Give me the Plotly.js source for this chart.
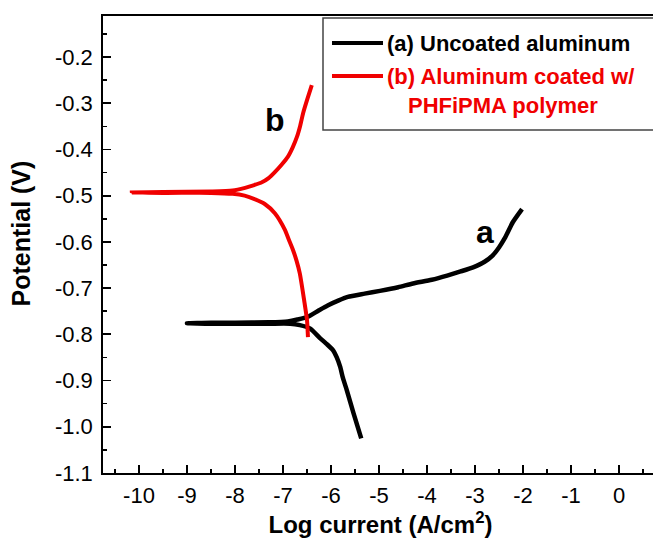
<!DOCTYPE html>
<html>
<head>
<meta charset="utf-8">
<script src="https://cdn.plot.ly/plotly-3.0.1.min.js"></script>
<style>
html,body{margin:0;padding:0;overflow:hidden;background:#fff;}
#chart{width:665px;height:540px;}
</style>
</head>
<body>
<div id="chart"></div>
<script>
// Uncoated aluminum (a): log current and potential, following the scan path
const aLogI = [-5.37, -5.45, -5.53, -5.67, -5.75, -5.81, -5.88, -5.96, -6.1, -6.23, -6.44, -6.65, -6.85, -7.3, -8.0, -8.5, -9.0,
               -8.5, -8.0, -7.3, -6.9, -6.7, -6.48, -6.25, -6.06, -5.85, -5.65, -5.3, -4.98, -4.6, -4.29, -3.9, -3.58, -3.3, -3.04, -2.8, -2.63, -2.5, -2.38, -2.21, -2.02];
const aPot  = [-1.025, -0.998, -0.971, -0.921, -0.895, -0.870, -0.850, -0.834, -0.820, -0.808, -0.787, -0.780, -0.777, -0.777, -0.777, -0.777, -0.776,
               -0.775, -0.775, -0.774, -0.772, -0.768, -0.762, -0.748, -0.737, -0.727, -0.719, -0.712, -0.706, -0.698, -0.690, -0.682, -0.673, -0.664, -0.655, -0.643, -0.629, -0.612, -0.592, -0.557, -0.529];

// Aluminum coated with PHFiPMA polymer (b)
const bLogI = [-6.48, -6.50, -6.56, -6.65, -6.72, -6.79, -6.88, -6.96, -7.17, -7.38, -7.58, -7.8, -8.05, -8.5, -9.5, -10.15,
               -9.5, -8.5, -8.05, -7.79, -7.6, -7.44, -7.3, -7.17, -7.03, -6.90, -6.80, -6.71, -6.64, -6.58, -6.49, -6.40];
const bPot  = [-0.806, -0.769, -0.726, -0.668, -0.640, -0.618, -0.595, -0.574, -0.538, -0.518, -0.508, -0.500, -0.496, -0.494, -0.494, -0.493,
               -0.492, -0.491, -0.489, -0.483, -0.477, -0.471, -0.462, -0.449, -0.433, -0.416, -0.396, -0.373, -0.348, -0.321, -0.290, -0.261];

const xTickVals = [-10, -9, -8, -7, -6, -5, -4, -3, -2, -1, 0];
const xTickText = ['-10', '-9', '-8', '-7', '-6', '-5', '-4', '-3', '-2', '-1', '0'];
const yTickVals = [-0.2, -0.3, -0.4, -0.5, -0.6, -0.7, -0.8, -0.9, -1.0, -1.1];
const yTickText = ['-0.2', '-0.3', '-0.4', '-0.5', '-0.6', '-0.7', '-0.8', '-0.9', '-1.0', '-1.1'];

const seriesNames = ['(a) Uncoated aluminum', '(b) Aluminum coated w/', 'PHFiPMA polymer'];
const seriesColors = ['#000000', '#f00000'];
const curveLabels = ['a', 'b'];
const curveLabelX = [-2.79, -7.17];
const curveLabelY = [-0.579, -0.336];

const FONT = '"Liberation Sans", Arial, Helvetica, sans-serif';

const traces = [
  {x: aLogI, y: aPot, mode: 'lines', name: seriesNames[0], line: {color: seriesColors[0], width: 4.5, shape: 'spline', smoothing: 0.6}, showlegend: false},
  {x: bLogI, y: bPot, mode: 'lines', name: seriesNames[1] + ' ' + seriesNames[2], line: {color: seriesColors[1], width: 4, shape: 'spline', smoothing: 0.6}, showlegend: false}
];

// custom legend box (paper coordinates)
const legX0 = 0.3964, legX1 = 1.05, legY0 = 0.7505, legY1 = 0.9956;
const legLineX0 = 0.4126, legLineX1 = 0.5045;
const legRowY = [0.9409, 0.8687, 0.8031];

const shapes = [
  {type: 'rect', xref: 'paper', yref: 'paper', x0: legX0, x1: legX1, y0: legY0, y1: legY1, line: {color: '#444', width: 1.5}, fillcolor: 'rgba(255,255,255,0)'},
  {type: 'line', xref: 'paper', yref: 'paper', x0: legLineX0, x1: legLineX1, y0: legRowY[0], y1: legRowY[0], line: {color: seriesColors[0], width: 4}},
  {type: 'line', xref: 'paper', yref: 'paper', x0: legLineX0, x1: legLineX1, y0: legRowY[1], y1: legRowY[1], line: {color: seriesColors[1], width: 4}}
];

const annotations = [
  {xref: 'paper', yref: 'paper', x: legLineX1 + 0.003, y: legRowY[0], xanchor: 'left', yanchor: 'middle', showarrow: false,
   text: '<b>' + seriesNames[0] + '</b>', font: {family: FONT, size: 22, color: seriesColors[0]}},
  {xref: 'paper', yref: 'paper', x: legLineX1 + 0.003, y: legRowY[1], xanchor: 'left', yanchor: 'middle', showarrow: false,
   text: '<b>' + seriesNames[1] + '</b>', font: {family: FONT, size: 22, color: seriesColors[1]}},
  {xref: 'paper', yref: 'paper', x: 0.7207, y: legRowY[2], xanchor: 'center', yanchor: 'middle', showarrow: false,
   text: '<b>' + seriesNames[2] + '</b>', font: {family: FONT, size: 22, color: seriesColors[1]}},
  {x: curveLabelX[0], y: curveLabelY[0], xref: 'x', yref: 'y', showarrow: false, text: '<b>' + curveLabels[0] + '</b>', font: {family: FONT, size: 32, color: '#000'}},
  {x: curveLabelX[1], y: curveLabelY[1], xref: 'x', yref: 'y', showarrow: false, text: '<b>' + curveLabels[1] + '</b>', font: {family: FONT, size: 32, color: '#000'}},
  // y-axis title
  {xref: 'paper', yref: 'paper', x: -0.147, y: 0.525, xanchor: 'center', yanchor: 'middle', showarrow: false, textangle: -90,
   text: '<b>Potential (V)</b>', font: {family: FONT, size: 25, color: '#000'}}
];

const layout = {
  width: 665, height: 540,
  margin: {l: 103, r: 7, t: 16, b: 67},
  paper_bgcolor: '#fff', plot_bgcolor: '#fff',
  font: {family: FONT, color: '#000'},
  showlegend: false,
  xaxis: {
    range: [-10.75, 0.8125],
    tickvals: xTickVals, ticktext: xTickText,
    ticks: 'inside', ticklen: 8, tickwidth: 1.8, tickcolor: '#000',
    minor: {ticks: 'inside', ticklen: 4, tickwidth: 1.5, tickcolor: '#000', dtick: 0.5, tick0: 0, showgrid: false},
    showline: true, linewidth: 1.8, linecolor: '#000', mirror: true,
    showgrid: false, zeroline: false,
    tickfont: {family: FONT, size: 22, color: '#000'},
    ticklabelstandoff: 2,
    title: {text: '<b>Log current (A/cm<sup>2</sup>)</b>', font: {family: FONT, size: 24, color: '#000'}, standoff: 8}
  },
  yaxis: {
    range: [-1.1, -0.1113],
    tickvals: yTickVals, ticktext: yTickText,
    ticks: 'inside', ticklen: 8, tickwidth: 1.8, tickcolor: '#000',
    minor: {ticks: 'inside', ticklen: 4, tickwidth: 1.5, tickcolor: '#000', dtick: 0.05, tick0: 0, showgrid: false},
    showline: true, linewidth: 1.8, linecolor: '#000', mirror: true,
    showgrid: false, zeroline: false,
    tickfont: {family: FONT, size: 22, color: '#000'},
    ticklabelstandoff: 4
  },
  shapes: shapes,
  annotations: annotations
};

Plotly.newPlot('chart', traces, layout, {displayModeBar: false, staticPlot: true});
</script>
</body>
</html>
